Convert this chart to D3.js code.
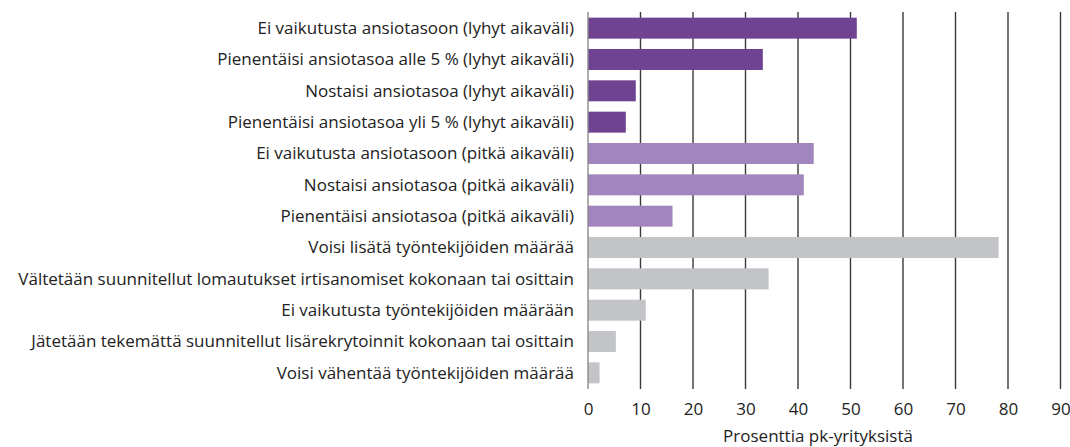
<html><head>
<script src="https://d3js.org/d3.v7.min.js"></script>
<style>
  body { margin: 0; background: #fff; }
  text { font-family: "Open Sans", "Noto Sans", sans-serif; fill: #222; }
</style>
</head>
<body>
<svg id="chart" width="1070" height="447"></svg>
<script>
// data
const categories = [
  "Ei vaikutusta ansiotasoon (lyhyt aikaväli)",
  "Pienentäisi ansiotasoa alle 5 % (lyhyt aikaväli)",
  "Nostaisi ansiotasoa (lyhyt aikaväli)",
  "Pienentäisi ansiotasoa yli 5 % (lyhyt aikaväli)",
  "Ei vaikutusta ansiotasoon (pitkä aikaväli)",
  "Nostaisi ansiotasoa (pitkä aikaväli)",
  "Pienentäisi ansiotasoa (pitkä aikaväli)",
  "Voisi lisätä työntekijöiden määrää",
  "Vältetään suunnitellut lomautukset irtisanomiset kokonaan tai osittain",
  "Ei vaikutusta työntekijöiden määrään",
  "Jätetään tekemättä suunnitellut lisärekrytoinnit kokonaan tai osittain",
  "Voisi vähentää työntekijöiden määrää"
];
const values = [51.2, 33.3, 9.1, 7.2, 43.0, 41.1, 16.1, 78.2, 34.4, 11.0, 5.3, 2.2];
const groups = ["lyhyt", "lyhyt", "lyhyt", "lyhyt", "pitka", "pitka", "pitka",
                "maara", "maara", "maara", "maara", "maara"];
const xTicks = [0, 10, 20, 30, 40, 50, 60, 70, 80, 90];
const xTitle = "Prosenttia pk-yrityksistä";

const svg = d3.select("#chart");
const plotLeft = 588, plotRight = 1060.5, plotTop = 12, plotBottom = 389;

const x = d3.scaleLinear().domain([0, 90]).range([plotLeft, plotRight]);
const y = d3.scaleBand().domain(categories).range([plotTop, plotBottom]).paddingInner(0.33).paddingOuter(0.18);
const color = d3.scaleOrdinal()
  .domain(["lyhyt", "pitka", "maara"])
  .range(["#6f4391", "#a186bd", "#c3c4c8"]);

// vertical grid lines
svg.append("g")
  .selectAll("line")
  .data(xTicks.slice(1))
  .join("line")
  .attr("x1", d => x(d)).attr("x2", d => x(d))
  .attr("y1", plotTop).attr("y2", plotBottom)
  .attr("stroke", "#3a3a3a")
  .attr("stroke-width", 1.4);

// bars
svg.append("g")
  .selectAll("rect")
  .data(categories)
  .join("rect")
  .attr("x", x(0))
  .attr("y", d => y(d))
  .attr("width", (d, i) => x(values[i]) - x(0))
  .attr("height", y.bandwidth())
  .attr("fill", (d, i) => color(groups[i]));

// zero axis line
svg.append("line")
  .attr("x1", x(0)).attr("x2", x(0))
  .attr("y1", plotTop).attr("y2", plotBottom)
  .attr("stroke", "#8a8a8a")
  .attr("stroke-width", 1.4);

// category labels
svg.append("g")
  .selectAll("text")
  .data(categories)
  .join("text")
  .attr("x", 574)
  .attr("y", d => y(d) + y.bandwidth() / 2)
  .attr("dy", "0.35em")
  .attr("text-anchor", "end")
  .attr("font-size", 17)
  .text(d => d);

// x axis tick labels
const xAxis = d3.axisBottom(x).tickValues(xTicks).tickSize(0).tickPadding(14);
const ax = svg.append("g").attr("transform", `translate(0,${plotBottom})`).call(xAxis);
ax.select(".domain").remove();
ax.selectAll("text")
  .attr("font-size", 17)
  .attr("font-family", "Open Sans, Noto Sans, sans-serif")
  .attr("fill", "#222");

// axis title
svg.append("text")
  .attr("x", 818)
  .attr("y", 442)
  .attr("text-anchor", "middle")
  .attr("font-size", 17)
  .text(xTitle);
</script>
</body>
</html>
